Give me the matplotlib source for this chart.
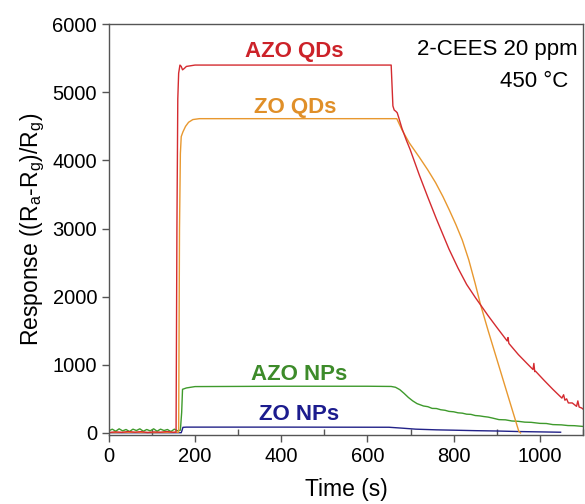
import numpy as np
import matplotlib
matplotlib.use('Agg')
import matplotlib.pyplot as plt
from matplotlib.ticker import MultipleLocator

plt.rcParams['font.family'] = ['Liberation Sans', 'DejaVu Sans']
plt.rcParams['mathtext.fontset'] = 'custom'
plt.rcParams['mathtext.rm'] = 'Liberation Sans'
plt.rcParams['mathtext.it'] = 'Liberation Sans'

# AZO QDs (red)
t_azo_qd = [0, 15, 30, 45, 60, 75, 90, 105, 120, 135, 150, 156, 158, 160, 162, 165, 168, 171, 175,
            180, 200, 400, 600, 655, 657, 659, 662, 666, 669, 672, 680, 690, 699, 720, 740, 760, 789,
            810, 830, 850, 863, 880, 900, 924, 926, 928, 950, 970, 984, 986, 988, 990, 1010,
            1030, 1051, 1055, 1058, 1062, 1066, 1075, 1085, 1088, 1091, 1097, 1100]
v_azo_qd = [5, 15, 8, 20, 10, 18, 6, 14, 10, 20, 8, 12, 3000, 4900, 5280, 5400, 5380, 5330, 5350,
            5380, 5400, 5400, 5400, 5400, 5100, 4800, 4740, 4720, 4700, 4640, 4470, 4300, 4160,
            3790, 3460, 3140, 2700, 2420, 2180, 1990, 1873, 1720, 1550, 1350, 1400, 1314, 1150,
            1020, 930, 1020, 900, 905, 770, 640, 511, 560, 480, 500, 440, 440, 390, 470, 380, 365, 350]

# ZO QDs (orange)
t_zo_qd = [0, 50, 100, 150, 162, 164, 166, 168, 172, 178, 185, 195, 210, 400, 600, 668, 680,
           697, 720, 740, 758, 775, 790, 805, 820, 835, 850, 862, 880, 905, 930, 951, 955]
v_zo_qd = [5, 8, 5, 8, 10, 3000, 4100, 4350, 4420, 4500, 4560, 4600, 4613, 4613, 4613, 4613, 4450,
           4258, 4050, 3860, 3674, 3470, 3270, 3060, 2830, 2540, 2190, 1890, 1500, 980, 460, 25, 0]

# AZO NPs (green)
t_azo_np = [0, 8, 16, 24, 32, 40, 48, 56, 64, 72, 80, 88, 96, 104, 112, 120, 128, 136, 144,
            152, 160, 166, 169, 171, 180, 200, 400, 600, 655, 665, 675, 685, 695, 705, 715, 730,
            740, 750, 760, 770, 780, 789, 800, 810, 820, 830, 840, 850, 860, 870, 880, 890, 905,
            920, 935, 950, 965, 980, 1000, 1015, 1030, 1050, 1065, 1080, 1100]
v_azo_np = [30, 55, 25, 60, 30, 50, 20, 55, 35, 60, 25, 50, 30, 60, 25, 55, 35, 50, 20,
            55, 30, 40, 300, 640, 660, 680, 685, 685, 682, 670, 635, 580, 520, 470, 430, 395,
            385, 360, 358, 340, 332, 316, 310, 295, 290, 275, 272, 255, 250, 240, 232, 218, 195,
            192, 175, 170, 158, 155, 140, 138, 122, 118, 108, 106, 95]

# ZO NPs (navy)
t_zo_np = [0, 100, 168, 170, 172, 180, 400, 650, 680, 712, 760, 800, 850, 900, 950, 1000, 1048]
v_zo_np = [3, 3, 3, 40, 82, 85, 85, 83, 70, 55, 45, 40, 33, 28, 20, 15, 10]

c_red = '#d42b30'
c_orange = '#e8982f'
c_green = '#3e9a2c'
c_navy = '#222288'

fig = plt.figure(figsize=(5.85, 5.04), dpi=100)
ax = fig.add_axes([0.186, 0.137, 0.8106, 0.815])

ax.plot(t_azo_np, v_azo_np, color=c_green, lw=1.0)
ax.plot(t_zo_np, v_zo_np, color=c_navy, lw=1.0)
ax.plot(t_zo_qd, v_zo_qd, color=c_orange, lw=1.0)
ax.plot(t_azo_qd, v_azo_qd, color=c_red, lw=1.0)

ax.set_xlim(0, 1100)
ax.set_ylim(-30, 6000)
ax.xaxis.set_major_locator(MultipleLocator(200))
ax.xaxis.set_minor_locator(MultipleLocator(100))
ax.yaxis.set_major_locator(MultipleLocator(1000))
ax.tick_params(axis='both', which='major', direction='out', length=5, width=1,
               color='#555555', labelsize=14.5, top=False, right=False)
ax.tick_params(axis='x', which='minor', direction='in', length=4, width=1,
               color='#555555', top=False)
for s in ax.spines.values():
    s.set_color('#555555')
    s.set_linewidth(1.0)

ax.set_xlabel('Time (s)', fontsize=16.5, labelpad=9)
ax.set_ylabel('Response ((R$_a$-R$_g$)/R$_g$)', fontsize=16.5, labelpad=4)

lab = dict(fontsize=16, fontweight='bold', ha='center', va='baseline')
ax.text(431, 5523, 'AZO QDs', color='#cc2229', **lab)
ax.text(432, 4701, 'ZO QDs', color='#e08f28', **lab)
ax.text(442, 778, 'AZO NPs', color='#3d8b2a', **lab)
ax.text(441, 194, 'ZO NPs', color='#1c1c8e', **lab)

ax.text(0.989, 0.9246, '2-CEES 20 ppm', transform=ax.transAxes, fontsize=16, ha='right', va='baseline')
ax.text(0.968, 0.8467, '450 \u00b0C', transform=ax.transAxes, fontsize=16, ha='right', va='baseline')

fig.savefig('out.png', dpi=100)
